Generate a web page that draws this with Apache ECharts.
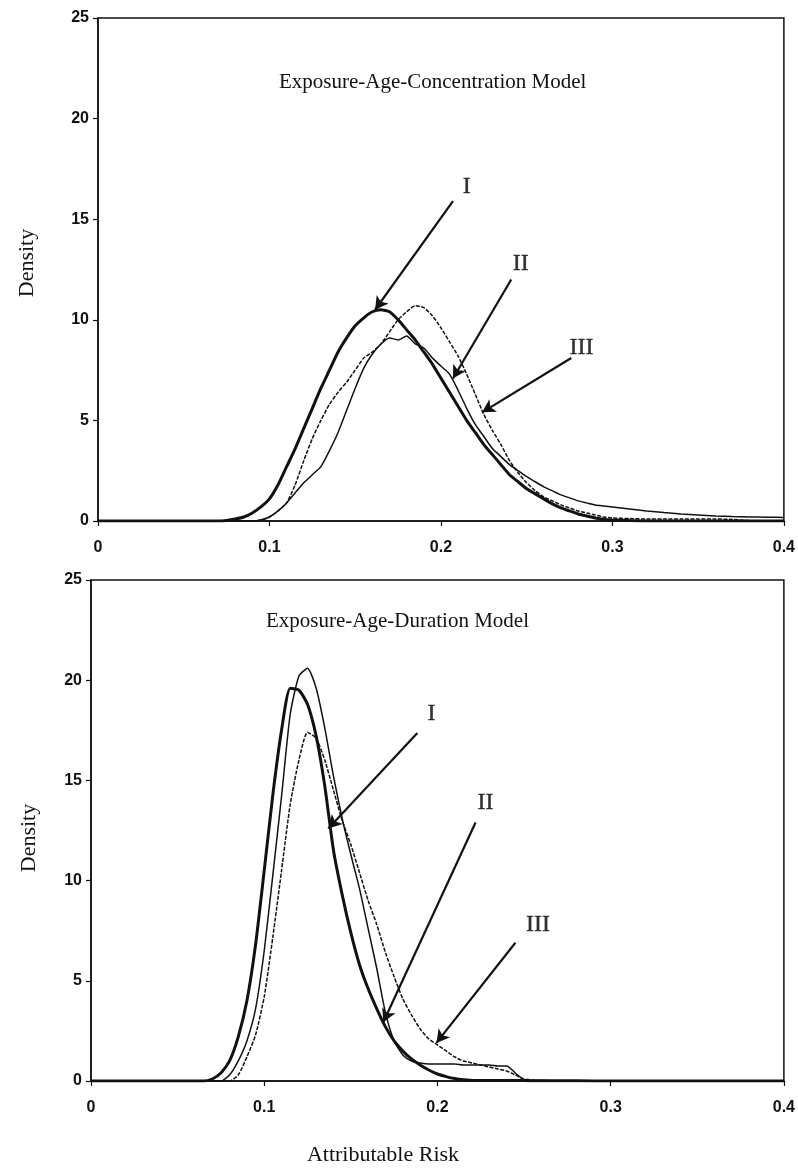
<!DOCTYPE html>
<html>
<head>
<meta charset="utf-8">
<script src="https://cdn.jsdelivr.net/npm/echarts@6/dist/echarts.min.js"></script>
<style>html,body{margin:0;padding:0;background:#fff}#c{width:798px;height:1171px}</style>
</head>
<body>
<div id="c"></div>
<script>
// ---------- DATA ----------
const xTickLabels = ['0', '0.1', '0.2', '0.3', '0.4'];
const yTickLabels = ['0', '5', '10', '15', '20', '25'];
const topTitle = 'Exposure-Age-Concentration Model';
const bottomTitle = 'Exposure-Age-Duration Model';
const seriesNames = ['I', 'II', 'III'];

// Top panel (Exposure-Age-Concentration)
const topX = [0,0.05,0.07,0.075,0.08,0.085,0.09,0.095,0.1,0.105,0.11,0.115,0.12,0.125,0.13,0.135,0.14,0.145,0.15,0.155,0.16,0.165,0.17,0.175,0.18,0.185,0.19,0.195,0.2,0.205,0.21,0.215,0.22,0.225,0.23,0.235,0.24,0.245,0.25,0.255,0.26,0.265,0.27,0.275,0.28,0.285,0.29,0.295,0.3,0.31,0.32,0.33,0.34,0.35,0.36,0.37,0.38,0.39,0.4];
const topI   = [0,0,0,0.03,0.1,0.2,0.4,0.7,1.1,1.8,2.7,3.6,4.6,5.6,6.6,7.5,8.4,9.1,9.7,10.1,10.4,10.5,10.4,10.0,9.5,9.0,8.4,7.8,7.1,6.4,5.7,5.0,4.4,3.8,3.3,2.8,2.3,1.95,1.6,1.35,1.1,0.85,0.65,0.5,0.35,0.25,0.15,0.08,0.05,0.02,0,0,0,0,0,0,0,0,0];
const topII  = [0,0,0,0,0,0,0,0.05,0.2,0.5,0.9,1.4,1.9,2.3,2.7,3.5,4.4,5.5,6.6,7.6,8.3,8.8,9.1,9.0,9.2,8.8,8.6,8.1,7.7,7.3,6.5,5.6,4.8,4.2,3.6,3.2,2.8,2.5,2.2,1.95,1.7,1.5,1.3,1.15,1.0,0.9,0.8,0.75,0.7,0.6,0.5,0.42,0.35,0.3,0.25,0.22,0.2,0.19,0.18];
const topIII = [0,0,0,0,0,0,0,0.05,0.2,0.5,0.9,1.8,3.0,4.1,5.0,5.8,6.4,6.9,7.5,8.1,8.4,8.8,9.4,10.0,10.4,10.7,10.6,10.2,9.6,8.9,8.2,7.3,6.3,5.3,4.5,3.8,3.0,2.4,1.9,1.5,1.2,1.0,0.8,0.65,0.5,0.4,0.3,0.2,0.15,0.12,0.1,0.1,0.1,0.1,0.1,0.08,0.02,0,0];

// Bottom panel (Exposure-Age-Duration)
const botX = [0,0.05,0.065,0.07,0.075,0.08,0.085,0.09,0.095,0.1,0.105,0.11,0.115,0.12,0.125,0.13,0.135,0.14,0.145,0.15,0.155,0.16,0.165,0.17,0.175,0.18,0.185,0.19,0.195,0.2,0.205,0.21,0.215,0.22,0.225,0.23,0.235,0.24,0.245,0.25,0.255,0.26,0.27,0.28,0.3,0.35,0.4];
const botI   = [0,0,0,0.1,0.4,1.0,2.2,4.0,6.8,10.5,14.3,17.5,19.6,19.5,18.8,17.2,14.7,11.5,9.3,7.4,5.8,4.6,3.6,2.7,2.0,1.5,1.1,0.8,0.55,0.35,0.22,0.12,0.06,0.03,0.02,0.02,0.02,0.02,0.02,0.02,0.01,0.01,0.01,0.01,0,0,0];
const botII  = [0,0,0,0,0,0.3,1.0,2.0,3.6,6.5,10.3,14.2,18.3,20.2,20.6,19.6,17.6,15.2,13.1,11.3,9.6,7.6,5.6,3.4,2.0,1.3,1.0,0.9,0.85,0.85,0.85,0.85,0.8,0.8,0.8,0.8,0.75,0.75,0.4,0.05,0.02,0.02,0.01,0.01,0.01,0,0];
const botIII = [0,0,0,0,0,0,0.3,1.2,2.3,4.2,7.2,10.5,13.8,16.0,17.4,17.1,16.0,14.5,13.0,11.8,10.4,9.0,7.8,6.4,5.2,4.1,3.3,2.6,2.1,1.8,1.5,1.2,1.0,0.9,0.8,0.7,0.6,0.5,0.3,0.1,0.05,0.02,0.01,0.01,0.01,0,0];

// Annotation arrows (data coordinates): [labelX, labelY, fromX, fromY, toX, toY]
const topArrows = [
  [0.215, 16.6, 0.207, 15.9, 0.1616, 10.5],
  [0.2465, 12.8, 0.241, 12.0, 0.207, 7.08],
  [0.282, 8.6, 0.276, 8.1, 0.224, 5.4]
];
const botArrows = [
  [0.1965, 18.35, 0.1884, 17.36, 0.137, 12.6],
  [0.2277, 13.9, 0.222, 12.9, 0.1688, 2.94],
  [0.258, 7.8, 0.245, 6.9, 0.1994, 1.9]
];

// ---------- CHART ----------
const zip = (xs, ys) => xs.map((x, i) => [x, ys[i]]);
const serif = 'Liberation Serif, Times New Roman, serif';
const sans = 'Liberation Sans, Arial, sans-serif';
const ink = '#111';

function axes(gi) {
  return {
    x: {
      type: 'value', gridIndex: gi, min: 0, max: 0.4, interval: 0.1,
      axisLine: { show: true, onZero: false, lineStyle: { color: ink, width: 1.5 } },
      axisTick: { show: true, inside: false, length: 5, lineStyle: { color: ink, width: 1.2 } },
      axisLabel: { color: ink, fontFamily: sans, fontWeight: 'bold', fontSize: 16, margin: 19,
        formatter: (v) => xTickLabels[Math.round(v * 10)] },
      splitLine: { show: false }
    },
    y: {
      type: 'value', gridIndex: gi, min: 0, max: 25, interval: 5,
      axisLine: { show: true, lineStyle: { color: ink, width: 1.5 } },
      axisTick: { show: true, inside: false, length: 5, lineStyle: { color: ink, width: 1.2 } },
      axisLabel: { color: ink, fontFamily: sans, fontWeight: 'bold', fontSize: 16, margin: 9,
        formatter: (v) => yTickLabels[Math.round(v / 5)] },
      splitLine: { show: false }
    }
  };
}
const a0 = axes(0), a1 = axes(1);

const styles = [
  { width: 3, type: 'solid' },
  { width: 1.5, type: 'solid' },
  { width: 1.5, type: [4, 1.5] }
];

function curves(gi, xs, ys) {
  const order = [1, 2, 0];
  return order.map(k => ({
    name: seriesNames[k] + '-' + gi,
    type: 'line', xAxisIndex: gi, yAxisIndex: gi,
    data: zip(xs, ys[k]), showSymbol: false, symbol: 'none', smooth: 0.2,
    lineStyle: { color: ink, width: styles[k].width, type: styles[k].type },
    z: k === 0 ? 5 : 3
  }));
}

function annotations(gi, arrows) {
  return [
    {
      name: 'labels-' + gi, type: 'scatter', xAxisIndex: gi, yAxisIndex: gi,
      symbolSize: 0, silent: true,
      data: arrows.map((a, i) => ({ value: [a[0], a[1]], name: seriesNames[i] })),
      label: { show: true, position: 'inside', formatter: '{b}', color: '#000',
        fontFamily: serif, fontSize: 24, textBorderColor: '#000', textBorderWidth: 0.4 }
    },
    {
      name: 'arrows-' + gi, type: 'line', xAxisIndex: gi, yAxisIndex: gi, data: [],
      markLine: {
        silent: true, symbol: ['none', 'arrow'], symbolSize: [11, 13],
        label: { show: false },
        lineStyle: { color: ink, width: 2.2, type: 'solid' },
        data: arrows.map(a => [{ coord: [a[2], a[3]] }, { coord: [a[4], a[5]] }])
      }
    }
  ];
}

const chart = echarts.init(document.getElementById('c'), null, { renderer: 'canvas' });
chart.setOption({
  animation: false,
  backgroundColor: '#fff',
  grid: [
    { left: 98, top: 18, width: 688, height: 503, show: true, borderColor: ink, borderWidth: 1.5, backgroundColor: 'transparent' },
    { left: 91, top: 580, width: 693, height: 501, show: true, borderColor: ink, borderWidth: 1.5, backgroundColor: 'transparent' }
  ],
  xAxis: [a0.x, a1.x],
  yAxis: [a0.y, a1.y],
  graphic: [
    { type: 'text', left: 437 - 158, top: 72, style: { text: topTitle, fontFamily: serif, fontSize: 21, fill: ink } },
    { type: 'text', left: 401 - 135, top: 611, style: { text: bottomTitle, fontFamily: serif, fontSize: 21, fill: ink } },
    { type: 'text', x: 27, y: 263, rotation: Math.PI / 2, style: { text: 'Density', fontFamily: serif, fontSize: 22, fill: ink, textAlign: 'center', textVerticalAlign: 'middle' } },
    { type: 'text', x: 29, y: 838, rotation: Math.PI / 2, style: { text: 'Density', fontFamily: serif, fontSize: 22, fill: ink, textAlign: 'center', textVerticalAlign: 'middle' } },
    { type: 'text', x: 383, y: 1155, style: { text: 'Attributable Risk', fontFamily: serif, fontSize: 22, fill: ink, textAlign: 'center', textVerticalAlign: 'middle' } }
  ],
  series: [
    ...curves(0, topX, [topI, topII, topIII]),
    ...curves(1, botX, [botI, botII, botIII]),
    ...annotations(0, topArrows),
    ...annotations(1, botArrows)
  ]
});
</script>
</body>
</html>
